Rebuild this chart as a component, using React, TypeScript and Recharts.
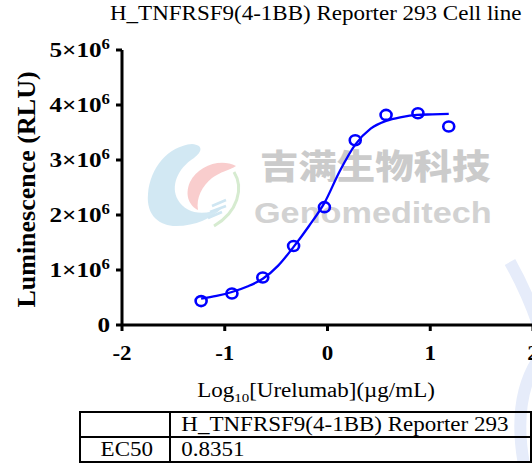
import React from "react";
import {
  ComposedChart,
  Line,
  Scatter,
  XAxis,
  YAxis,
} from "recharts";

// measured points, log10 concentration vs RLU
const logConc = [-1.23, -0.93, -0.63, -0.33, -0.03, 0.27, 0.57, 0.88, 1.18];
const luminescence = [
  435000, 574000, 864000, 1437000, 2143000, 3360000, 3820000, 3850000, 3610000,
];

// fitted curve
const curveX = [
  -1.23, -1.08, -0.93, -0.78, -0.63, -0.48, -0.33, -0.18, -0.03, 0.12, 0.27,
  0.42, 0.57, 0.72, 0.87, 1.02, 1.18,
];
const curveY = [
  480000, 530000, 600000, 700000, 840000, 1080000, 1420000, 1800000, 2220000,
  2800000, 3280000, 3570000, 3710000, 3780000, 3820000, 3830000, 3840000,
];

const xTicks = [-2, -1, 0, 1, 2];
const yTicks = [0, 1000000, 2000000, 3000000, 4000000, 5000000];

const title = "H_TNFRSF9(4-1BB) Reporter 293 Cell line";
const seriesName = "H_TNFRSF9(4-1BB) Reporter 293";
const ec50 = "0.8351";

const points = logConc.map((x, i) => ({ x, y: luminescence[i] }));
const curve = curveX.map((x, i) => ({ x, y: curveY[i] }));

const SERIF = '"Liberation Serif", "Times New Roman", serif';
const BLUE = "#0000ff";
// the source picture is a little wider than it is tall
const SX = 1.15;

const stretch = (x: number, s = SX) =>
  `translate(${x} 0) scale(${s} 1) translate(${-x} 0)`;

const YTick = (props: any) => {
  const { x, y, payload } = props;
  const v = payload.value / 1000000;
  return (
    <text
      x={x}
      y={y}
      dy={7}
      textAnchor="end"
      transform={stretch(x, 1.2)}
      fontFamily={SERIF}
      fontWeight="bold"
      fontSize={21}
      fill="#000"
    >
      {v === 0 ? (
        "0"
      ) : (
        <>
          {v}×10
          <tspan dy={-8} fontSize={14}>
            6
          </tspan>
        </>
      )}
    </text>
  );
};

const XTick = (props: any) => {
  const { x, y, payload } = props;
  return (
    <text
      x={x}
      y={y}
      dy="0.71em"
      textAnchor="middle"
      transform={stretch(x)}
      fontFamily={SERIF}
      fontWeight="bold"
      fontSize={20}
      fill="#000"
    >
      {payload.value}
    </text>
  );
};

const HollowDot = (props: any) => {
  const { cx, cy } = props;
  return (
    <ellipse
      cx={cx}
      cy={cy}
      rx={5.5}
      ry={5}
      fill="none"
      stroke={BLUE}
      strokeWidth={2.6}
    />
  );
};

const Watermark = () => (
  <div style={{ position: "absolute", left: 0, top: 0, width: 532, height: 463 }}>
    <svg width={532} height={463} style={{ position: "absolute", left: 0, top: 0 }}>
      <path
        d="M192 144 C168 146 150 168 148 194 C146 216 160 226 176 226 C196 226 212 218 222 208 C204 216 186 214 178 200 C170 186 178 168 194 158 C202 152 204 145 192 144 Z"
        fill="#cde6f2"
        opacity={0.9}
      />
      <path
        d="M236 166 C220 158 198 166 190 182 C184 196 190 206 198 210 C196 198 202 186 212 178 C220 172 230 170 236 166 Z"
        fill="#f8c8c8"
        opacity={0.9}
      />
      <path
        d="M234 172 C244 188 238 212 214 226"
        fill="none"
        stroke="#d6ebd0"
        strokeWidth={3}
      />
      <path
        d="M212 206 L226 200 M210 212 L226 206 M208 218 L222 212"
        fill="none"
        stroke="#cfe6f2"
        strokeWidth={2.5}
      />
      <path
        d="M510 262 C520 280 530 300 540 330"
        fill="none"
        stroke="#e6ecfa"
        strokeWidth={12}
      />
      <path
        d="M545 350 C520 380 515 420 525 470"
        fill="none"
        stroke="#e6ecfa"
        strokeWidth={12}
      />
    </svg>
    <div
      style={{
        position: "absolute",
        left: 260,
        top: 140,
        fontFamily: '"Noto Sans CJK SC", sans-serif',
        fontWeight: 900,
        fontSize: 34,
        color: "#cbcbcb",
        whiteSpace: "nowrap",
        transform: "scaleX(1.13)",
        transformOrigin: "left top",
      }}
    >
      吉满生物科技
    </div>
    <div
      style={{
        position: "absolute",
        left: 254,
        top: 197,
        fontFamily: '"Liberation Sans", Arial, sans-serif',
        fontWeight: "bold",
        fontSize: 29,
        color: "#d2d2d2",
        whiteSpace: "nowrap",
        transform: "scaleX(1.18)",
        transformOrigin: "left top",
      }}
    >
      Genomeditech
    </div>
  </div>
);

const cell = {
  border: "2.5px solid #000",
  padding: 0,
  height: 23,
  lineHeight: "23px",
  whiteSpace: "nowrap" as const,
};

const App = () => {
  return (
    <div
      style={{
        position: "absolute",
        left: 0,
        top: 0,
        width: 532,
        height: 463,
        overflow: "hidden",
        background: "#fff",
        fontFamily: SERIF,
      }}
    >
      <Watermark />
      <div
        style={{
          position: "absolute",
          left: 110,
          top: 2,
          fontSize: 20,
          lineHeight: "23px",
          whiteSpace: "nowrap",
          color: "#000",
          transform: `scaleX(${SX})`,
          transformOrigin: "left top",
        }}
      >
        {title}
      </div>
      <div style={{ position: "absolute", left: 0, top: 0 }}>
        <ComposedChart
          width={560}
          height={400}
          margin={{ top: 50, right: 27, left: 52, bottom: 45 }}
        >
          <XAxis
            type="number"
            dataKey="x"
            domain={[-2, 2]}
            ticks={xTicks}
            allowDataOverflow
            axisLine={{ stroke: "#000", strokeWidth: 3 }}
            tickLine={{ stroke: "#000", strokeWidth: 3 }}
            tickSize={6}
            tickMargin={15}
            tick={<XTick />}
            height={30}
          />
          <YAxis
            type="number"
            dataKey="y"
            domain={[0, 5000000]}
            ticks={yTicks}
            allowDataOverflow
            axisLine={{ stroke: "#000", strokeWidth: 3 }}
            tickLine={{ stroke: "#000", strokeWidth: 3 }}
            tickSize={6}
            tickMargin={6}
            tick={<YTick />}
            width={70}
            label={(p: any) => {
              const vb = p.viewBox;
              const cy = vb.y + vb.height / 2 + 2;
              return (
                <text
                  x={26}
                  y={cy}
                  transform={`rotate(-90, 26, ${cy})`}
                  textAnchor="middle"
                  dominantBaseline="central"
                  fontFamily={SERIF}
                  fontWeight="bold"
                  fontSize={26}
                  fill="#000"
                >
                  Luminescence (RLU)
                </text>
              );
            }}
          />
          <Line
            data={curve}
            dataKey="y"
            type="monotone"
            stroke={BLUE}
            strokeWidth={2.3}
            dot={false}
            activeDot={false}
            isAnimationActive={false}
          />
          <Scatter
            data={points}
            dataKey="y"
            shape={<HollowDot />}
            isAnimationActive={false}
          />
        </ComposedChart>
      </div>
      <div
        style={{
          position: "absolute",
          left: 316,
          top: 379,
          fontSize: 20,
          lineHeight: "23px",
          whiteSpace: "nowrap",
          color: "#000",
          transform: `translateX(-50%) scaleX(${SX})`,
          transformOrigin: "center top",
        }}
      >
        Log<sub style={{ fontSize: 13, lineHeight: 0 }}>10</sub>[Urelumab](µg/mL)
      </div>
      <table
        style={{
          position: "absolute",
          left: 79,
          top: 411,
          borderCollapse: "collapse",
          fontSize: 20,
          color: "#000",
        }}
      >
        <tbody>
          <tr>
            <td style={{ ...cell, width: 106 }} />
            <td style={{ ...cell, width: 400 }}>
              <div
                style={{
                  paddingLeft: 9,
                  transform: `scaleX(${SX})`,
                  transformOrigin: "left center",
                }}
              >
                {seriesName}
              </div>
            </td>
          </tr>
          <tr>
            <td style={cell}>
              <div
                style={{
                  textAlign: "right",
                  paddingRight: 14,
                  transform: `scaleX(${SX})`,
                  transformOrigin: "right center",
                }}
              >
                EC50
              </div>
            </td>
            <td style={cell}>
              <div
                style={{
                  paddingLeft: 9,
                  transform: `scaleX(${SX})`,
                  transformOrigin: "left center",
                }}
              >
                {ec50}
              </div>
            </td>
          </tr>
        </tbody>
      </table>
    </div>
  );
};

export default App;
